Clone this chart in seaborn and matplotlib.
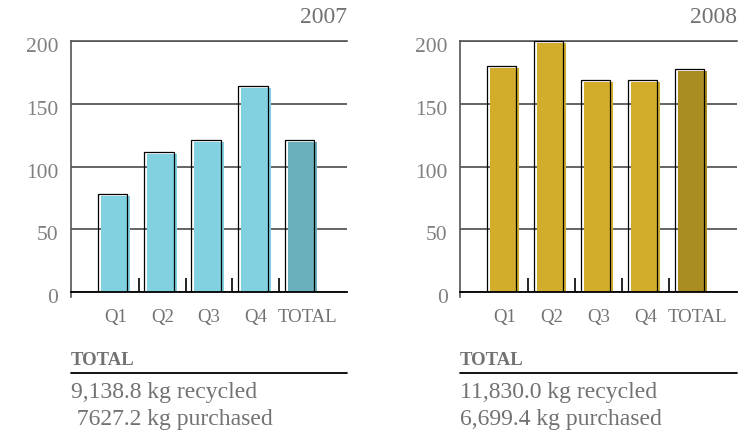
import matplotlib
matplotlib.use('Agg')
import matplotlib.pyplot as plt
import seaborn as sns
from matplotlib.patches import Rectangle
from matplotlib.transforms import ScaledTranslation

# datos
categorias = ['Q1', 'Q2', 'Q3', 'Q4', 'TOTAL']
valores_2007 = [76.5, 110, 119.5, 162.5, 119.5]
valores_2008 = [178.5, 198.7, 167.3, 167.3, 176.3]
colores_2007 = ['#82d1e0'] * 4 + ['#6aafbc']
colores_2008 = ['#d2ad2c'] * 4 + ['#ab8c23']
totales_2007 = ['9,138.8 kg recycled', ' 7627.2 kg purchased']
totales_2008 = ['11,830.0 kg recycled', '6,699.4 kg purchased']
yticks = [0, 50, 100, 150, 200]

gris = '#727272'

sns.set_theme(style='white')
plt.rcParams['font.family'] = ['Liberation Serif', 'DejaVu Serif']

fig = plt.figure(figsize=(7.54, 4.41), dpi=100)
ax1 = fig.add_axes([71 / 754, 149 / 441, 276 / 754, 251 / 441])
ax2 = fig.add_axes([460 / 754, 149 / 441, 277 / 754, 251 / 441])


def panel(ax, anio, valores, colores, totales):
    sns.barplot(x=categorias, y=valores, hue=categorias, palette=colores,
                legend=False, width=0.63, saturation=1, linewidth=0, ax=ax)
    ax.set_xlim(-0.95, 4.95)
    ax.set_ylim(0, 200)
    ax.set_yticks(yticks)
    ax.set_xlabel('')
    ax.set_ylabel('')

    # lineas horizontales
    ax.yaxis.grid(True, color='#4a4a4a', lw=1.2)
    ax.set_axisbelow(True)
    ax.spines['right'].set_visible(False)
    ax.spines['top'].set_color('#555555')
    ax.spines['top'].set_linewidth(1.2)
    ax.spines['bottom'].set_color('black')
    ax.spines['bottom'].set_linewidth(1.3)
    ax.spines['left'].set_color('#555555')
    ax.spines['left'].set_linewidth(1.2)
    ax.spines['left'].set_bounds(-4, 200)

    # marquitas entre barras
    ax.set_xticks([0.5, 1.5, 2.5, 3.5], minor=True)
    ax.tick_params(axis='x', which='minor', bottom=True, direction='in',
                   length=10, width=1.2, color='black')
    ax.tick_params(axis='x', which='major', length=0, pad=12,
                   labelsize=13.5, labelcolor=gris)
    ax.tick_params(axis='y', length=0, pad=9, labelsize=15.5, labelcolor='#808080')
    for lbl in ax.get_yticklabels():
        lbl.set_transform(lbl.get_transform() + ScaledTranslation(0, -0.04, fig.dpi_scale_trans))
    # TOTAL va un poco corrido a la derecha
    ax.get_xticklabels()[-1].set_transform(
        ax.get_xticklabels()[-1].get_transform() + ScaledTranslation(0.05, 0, fig.dpi_scale_trans))

    # contorno corrido (sombra)
    px_por_unidad = ax.bbox.height / 200
    corrimiento = ScaledTranslation(-3 / fig.dpi, 0, fig.dpi_scale_trans)
    for p in list(ax.patches):
        r = Rectangle((p.get_x(), p.get_y()), p.get_width(),
                      p.get_height() + 2 / px_por_unidad, fill=False,
                      edgecolor='black', lw=0.9,
                      transform=ax.transData + corrimiento, zorder=3)
        ax.add_patch(r)

    ax.text(1, 1.072, anio, transform=ax.transAxes, ha='right', va='baseline',
            fontsize=17, color=gris)

    # bloque de totales
    ax.text(0, -0.29, 'TOTAL', transform=ax.transAxes, va='baseline',
            fontsize=13.5, fontweight='bold', color=gris)
    ax.plot([0, 1], [-0.323, -0.323], transform=ax.transAxes, clip_on=False,
            color='black', lw=1.3)
    ax.text(0, -0.422, totales[0], transform=ax.transAxes, va='baseline',
            fontsize=17, color=gris)
    ax.text(0, -0.53, totales[1], transform=ax.transAxes, va='baseline',
            fontsize=17, color=gris)


panel(ax1, '2007', valores_2007, colores_2007, totales_2007)
panel(ax2, '2008', valores_2008, colores_2008, totales_2008)

fig.savefig('out.png', dpi=100)
